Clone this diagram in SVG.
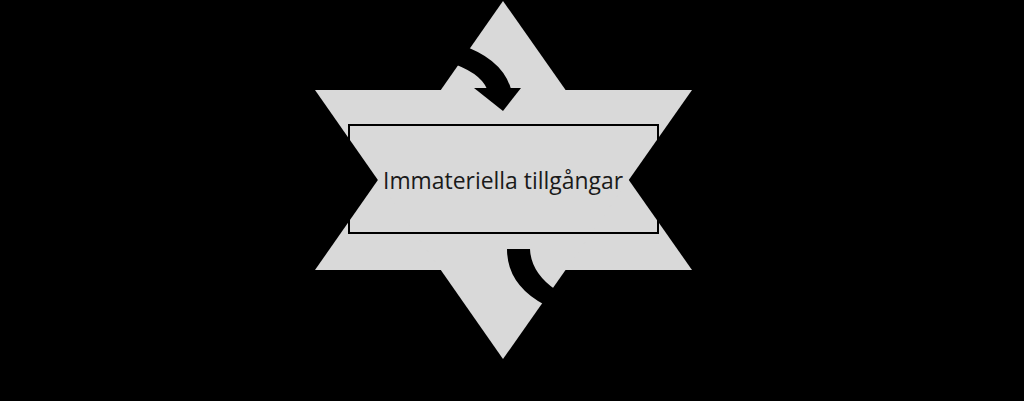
<svg xmlns="http://www.w3.org/2000/svg" width="1024" height="401" viewBox="0 0 1024 401">
<style>
.star{fill:#d9d9d9;stroke:none}
.box{fill:none;stroke:#000;stroke-width:2}
.lbl{font-family:"Open Sans","Liberation Sans",sans-serif;font-size:23px;fill:#1a1a1a;text-anchor:middle}
.arr{fill:#000;stroke:none}
</style>
<rect width="1024" height="401" fill="#000"/>
<g id="star">
<polygon class="star" points="503,1 692,270 315,270"/>
<polygon class="star" points="315,90 692,90 503,359"/>
</g>
<g id="node-immateriella">
<rect class="box" x="349" y="125" width="309" height="108"/>
<text class="lbl" x="503" y="189" textLength="240" lengthAdjust="spacingAndGlyphs">Immateriella tillgångar</text>
</g>
<g id="connectors">
<path class="arr" d="M458,44 Q502,58 511,89 L487,89 Q480,72 448,62 Z"/>
<polygon class="arr" points="474,88 521,88 503,111"/>
<path class="arr" d="M507,249 L530,249 Q531,273 556,290 L545,305 Q507,285 507,249 Z"/>
</g>
</svg>
